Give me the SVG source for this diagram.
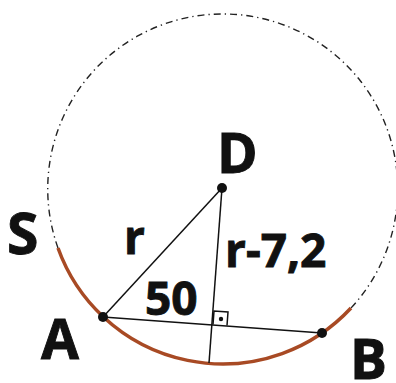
<svg xmlns="http://www.w3.org/2000/svg" width="396" height="383" viewBox="0 0 396 383">
<style>
.lbl{font-family:"Open Sans","Liberation Sans",sans-serif;font-weight:bold;fill:#111;stroke:#111;stroke-width:0.9}
.ln{stroke:#111;stroke-width:1.5;fill:none}
.pt{fill:#111}
</style>
<rect width="396" height="383" fill="#fff"/>
<g id="circle">
<path d="M58,248 A175,175 0 1 1 351,308" fill="none" stroke="#222" stroke-width="1.4" stroke-dasharray="7 4 1.3 4"/>
<path d="M58,248 A175,175 0 0 0 351,308" fill="none" stroke="#a84a24" stroke-width="3.5"/>
</g>
<g id="connectors">
<line class="ln" x1="103" y1="317" x2="222" y2="188"/>
<line class="ln" x1="222" y1="188" x2="209" y2="363"/>
<line class="ln" x1="103" y1="317" x2="322" y2="333"/>
<path class="ln" d="M213,324.5 L214,311 L228,312 L227,325.5" stroke-width="1.3"/>
<circle class="pt" cx="221" cy="319" r="2.2"/>
</g>
<g id="D"><circle class="pt" cx="222" cy="188" r="5"/><text class="lbl" x="217" y="173" font-size="55">D</text></g>
<g id="A"><circle class="pt" cx="103" cy="317" r="5"/><text class="lbl" x="41" y="359" font-size="55">A</text></g>
<g id="B"><circle class="pt" cx="322" cy="333" r="5"/><text class="lbl" x="350" y="379" font-size="55">B</text></g>
<g id="S"><text class="lbl" x="7" y="254" font-size="57">S</text></g>
<text class="lbl" x="124" y="254" font-size="46">r</text>
<text class="lbl" x="225" y="267" font-size="46">r-7,2</text>
<text class="lbl" x="145" y="315" font-size="46">50</text>
</svg>
